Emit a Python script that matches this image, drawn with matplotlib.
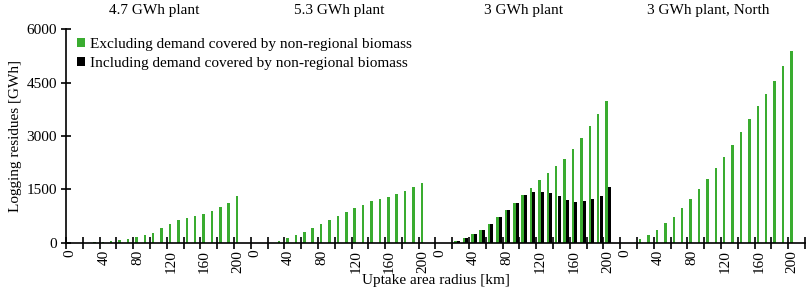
import numpy as np
import matplotlib
matplotlib.use("Agg")
import matplotlib.pyplot as plt
from matplotlib.patches import Patch
from matplotlib.transforms import blended_transform_factory

plt.rcParams['font.family'] = ['Liberation Serif', 'DejaVu Serif']
plt.rcParams['font.size'] = 11

radius = [0, 10, 20, 30, 40, 50, 60, 70, 80, 90, 100,
          110, 120, 130, 140, 150, 160, 170, 180, 190, 200]
plants = ["4.7 GWh plant", "5.3 GWh plant", "3 GWh plant", "3 GWh plant, North"]

# excluding demand covered by non-regional biomass
excl_47 = [0, 0, 0, 15, 30, 55, 75, 110, 160, 210, 285,
           400, 535, 630, 685, 740, 805, 890, 990, 1130, 1300]
excl_53 = [0, 0, 0, 37, 130, 214, 308, 419, 522, 634, 755,
           876, 969, 1072, 1174, 1240, 1295, 1361, 1445, 1556, 1687]
excl_3 = [0, 0, 35, 125, 242, 360, 531, 727, 932, 1128, 1342,
          1547, 1752, 1966, 2162, 2358, 2638, 2945, 3290, 3607, 3990]
excl_3n = [0, 0, 93, 205, 363, 541, 736, 969, 1221, 1500, 1799,
           2088, 2414, 2759, 3113, 3467, 3840, 4194, 4557, 4968, 5378]
# including demand covered by non-regional biomass (only 3 GWh plant)
incl_3 = [0, 0, 35, 125, 242, 360, 531, 727, 932, 1128, 1342,
          1417, 1426, 1389, 1314, 1193, 1156, 1165, 1230, 1314, 1560]

label_km = ["0", "40", "80", "120", "160", "200"]

green = '#3aac30'
excl = [excl_47, excl_53, excl_3, excl_3n]
n = len(radius)
step = n + 1  # one empty slot between plants

fig = plt.figure(figsize=(8.09, 2.95), dpi=100)
ax = fig.add_axes([0.0816, 0.1773, 0.9134, 0.7234])

for g, vals in enumerate(excl):
    x = np.arange(n) + g * step
    ax.bar(x - 0.12, vals, width=0.3, color=green, linewidth=0)
    if g == 2:
        ax.bar(x + 0.22, incl_3, width=0.36, color='black', linewidth=0)

ax.set_xlim(-0.5, 4 * step - 0.5)
ax.set_ylim(0, 6000)
ax.set_yticks([0, 1500, 3000, 4500, 6000])
ax.tick_params(axis='y', direction='inout', length=7, width=1.2, pad=3)

major = []
labels = []
for g in range(4):
    for j, lab in enumerate(label_km):
        major.append(g * step + 4 * j)
        labels.append(lab)
ax.set_xticks(major)
ax.set_xticklabels(labels, rotation=90)
ax.set_xticks(np.arange(-0.5, 4 * step, 2), minor=True)
ax.tick_params(axis='x', which='major', length=0, pad=5)
ax.tick_params(axis='x', which='minor', direction='inout', length=8, width=1.2)

for s in ['top', 'right']:
    ax.spines[s].set_visible(False)
for s in ['left', 'bottom']:
    ax.spines[s].set_linewidth(1.2)

tr = blended_transform_factory(ax.transData, ax.transAxes)
for g, name in enumerate(plants):
    ax.text(g * step + 10, 1.09, name, transform=tr, ha='center', va='center')

ax.set_ylabel("Logging residues [GWh]", labelpad=3)
ax.set_xlabel("Uptake area radius [km]", labelpad=1)

handles = [Patch(facecolor=green, edgecolor='none'),
           Patch(facecolor='black', edgecolor='none')]
ax.legend(handles, ["Excluding demand covered by non-regional biomass",
                    "Including demand covered by non-regional biomass"],
          loc='upper left', bbox_to_anchor=(0.006, 0.99), frameon=False,
          handlelength=0.55, handleheight=0.55, handletextpad=0.3,
          labelspacing=0.4, borderaxespad=0)

fig.savefig("out.png", dpi=100)
